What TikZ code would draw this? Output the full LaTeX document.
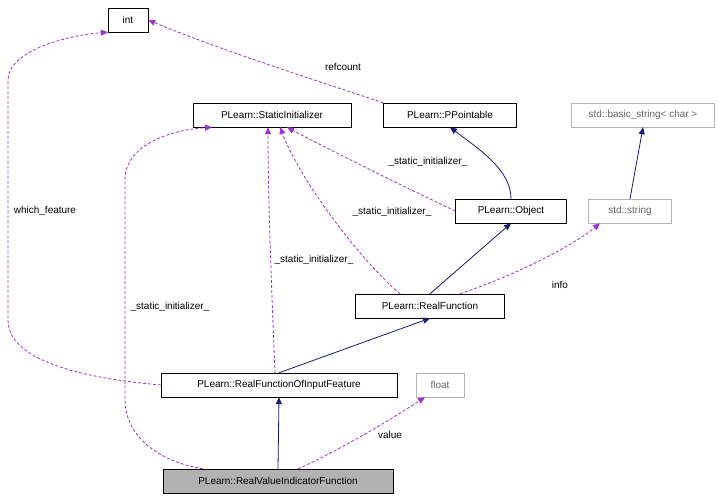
\documentclass[tikz,border=0pt]{standalone}
\usepackage{fontspec}
\setmainfont{Liberation Sans}
\usetikzlibrary{arrows.meta}
\begin{document}
\begin{tikzpicture}[x=1bp,y=-1bp,
  box/.style={draw=black,fill=white,inner sep=0pt,minimum height=24bp,font=\fontsize{10}{12}\selectfont},
  gbox/.style={box,draw=gray!60,text=gray!80!black},
  coll/.style={densely dashed,-{Triangle[length=7bp,width=6bp]},thick},
  inh/.style={draw={rgb,255:red,25;green,25;blue,112},-{Triangle[length=7bp,width=6bp]},thick},
  lab/.style={font=\fontsize{10}{12}\selectfont,text=black,inner sep=1pt}]
\useasboundingbox (0,0) rectangle (719,504);
\definecolor{ppl}{RGB}{154,50,205}
\tikzset{coll/.append style={draw=ppl,color=ppl}}
\node[box,minimum width=40bp] (int) at (128,20) {int};
\node[box,minimum width=158bp] (si) at (272,115) {PLearn::StaticInitializer};
\node[box,minimum width=133bp] (pp) at (450,115) {PLearn::PPointable};
\node[gbox,minimum width=143bp] (bs) at (643,115) {std::basic\_string< char >};
\node[box,minimum width=111bp] (obj) at (511,211) {PLearn::Object};
\node[gbox,minimum width=83bp] (str) at (630,211) {std::string};
\node[box,minimum width=149bp] (rf) at (430,306) {PLearn::RealFunction};
\node[box,minimum width=236bp] (rfo) at (279,385) {PLearn::RealFunctionOfInputFeature};
\node[gbox,minimum width=48bp] (fl) at (440,385) {float};
\node[box,fill=gray!60,minimum width=230bp] (rv) at (278,481) {PLearn::RealValueIndicatorFunction};

\draw[inh] (obj.north) .. controls (511,170) and (480,150) .. (pp.south);
\draw[inh] (rf.north) -- (obj.south);
\draw[inh] (rfo.north) -- (rf.south);
\draw[inh] (rv.north) -- (rfo.south);
\draw[inh] (str.north) -- (bs.south);

\draw[coll] (rfo.west) .. controls (80,378) and (8,360) .. (8,320) -- (8,80) .. controls (8,50) and (70,35) .. (int.south west);
\node[lab] at (45,211) {which\_feature};
\draw[coll] (pp.north west) .. controls (330,85) and (220,50) .. (int.east);
\node[lab] at (343,67) {refcount};
\draw[coll] (obj.west) .. controls (400,185) and (320,145) .. ([xshift=15bp]si.south);
\node[lab] at (428,162) {\_static\_initializer\_};
\draw[coll] ([xshift=-30bp]rf.north) .. controls (360,260) and (300,180) .. ([xshift=8bp]si.south);
\node[lab] at (392,212) {\_static\_initializer\_};
\draw[coll] ([xshift=-4bp]rfo.north) .. controls (272,300) and (268,200) .. ([xshift=-4bp]si.south);
\node[lab] at (314,260) {\_static\_initializer\_};
\draw[coll] ([xshift=-75bp]rv.north) .. controls (150,460) and (125,430) .. (125,400) -- (125,180) .. controls (125,145) and (170,130) .. ([xshift=-60bp]si.south);
\node[lab] at (170,307) {\_static\_initializer\_};
\draw[coll] ([xshift=30bp]rf.north) .. controls (530,270) and (580,240) .. ([xshift=-30bp]str.south);
\node[lab] at (560,285) {info};
\draw[coll] ([xshift=20bp]rv.north) .. controls (340,450) and (390,420) .. ([xshift=-15bp]fl.south);
\node[lab] at (390,435) {value};
\end{tikzpicture}
\end{document}
